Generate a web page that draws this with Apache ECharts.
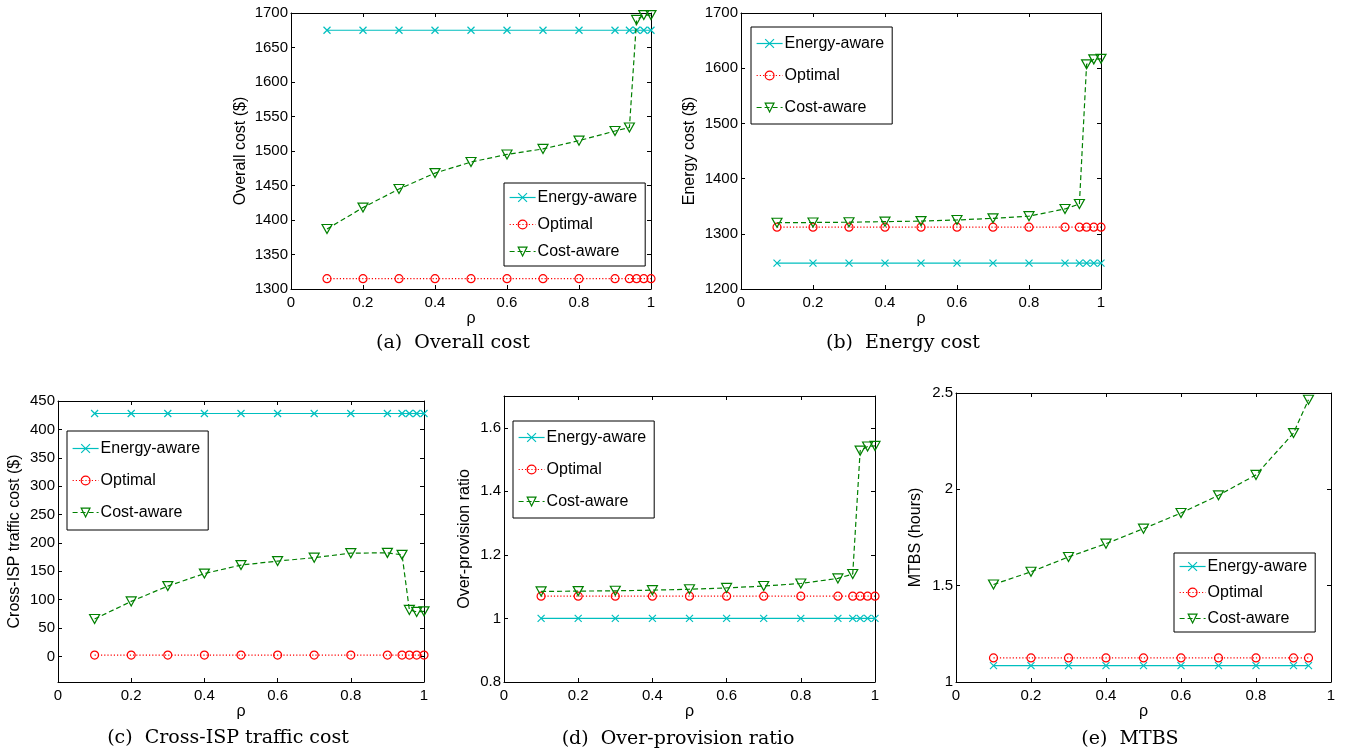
<!DOCTYPE html>
<html><head><meta charset="utf-8">
<script src="https://cdn.jsdelivr.net/npm/echarts@6/dist/echarts.min.js"></script>
<style>html,body{margin:0;padding:0;background:#fff}#c{width:1348px;height:756px}</style>
</head><body><div id="c"></div>
<script>
// ---- data ----
const rho = [0.1, 0.2, 0.3, 0.4, 0.5, 0.6, 0.7, 0.8, 0.9, 0.94, 0.96, 0.98, 1.0];
const rhoMtbs = [0.1, 0.2, 0.3, 0.4, 0.5, 0.6, 0.7, 0.8, 0.9, 0.94];
const seriesNames = ['Energy-aware', 'Optimal', 'Cost-aware'];

const overallEnergyAware = [1675, 1675, 1675, 1675, 1675, 1675, 1675, 1675, 1675, 1675, 1675, 1675, 1675];
const overallOptimal = [1315, 1315, 1315, 1315, 1315, 1315, 1315, 1315, 1315, 1315, 1315, 1315, 1315];
const overallCostAware = [1387, 1418, 1445, 1468, 1484, 1495, 1503, 1515, 1529, 1534, 1690, 1697, 1697];

const energyEnergyAware = [1247, 1247, 1247, 1247, 1247, 1247, 1247, 1247, 1247, 1247, 1247, 1247, 1247];
const energyOptimal = [1312, 1312, 1312, 1312, 1312, 1312, 1312, 1312, 1312, 1312, 1312, 1312, 1312];
const energyCostAware = [1320, 1320.5, 1321, 1322, 1323, 1325, 1328, 1332, 1345, 1354, 1607, 1616, 1617];

const ispEnergyAware = [428, 428, 428, 428, 428, 428, 428, 428, 428, 428, 428, 428, 428];
const ispOptimal = [2.5, 2.5, 2.5, 2.5, 2.5, 2.5, 2.5, 2.5, 2.5, 2.5, 2.5, 2.5, 2.5];
const ispCostAware = [66, 97, 124, 146, 161, 168, 174, 182, 182.5, 179, 82, 78.5, 79.5];

const opEnergyAware = [1.0, 1.0, 1.0, 1.0, 1.0, 1.0, 1.0, 1.0, 1.0, 1.0, 1.0, 1.0, 1.0];
const opOptimal = [1.07, 1.07, 1.07, 1.07, 1.07, 1.07, 1.07, 1.07, 1.07, 1.07, 1.07, 1.07, 1.07];
const opCostAware = [1.085, 1.086, 1.087, 1.089, 1.092, 1.096, 1.102, 1.11, 1.126, 1.14, 1.528, 1.541, 1.543];

const mtbsEnergyAware = [1.085, 1.085, 1.085, 1.085, 1.085, 1.085, 1.085, 1.085, 1.085, 1.085];
const mtbsOptimal = [1.125, 1.125, 1.125, 1.125, 1.125, 1.125, 1.125, 1.125, 1.125, 1.125];
const mtbsCostAware = [1.506, 1.572, 1.649, 1.718, 1.796, 1.877, 1.969, 2.075, 2.292, 2.465];

const xTicks = [0, 0.2, 0.4, 0.6, 0.8, 1];
const yTicksA = [1300, 1350, 1400, 1450, 1500, 1550, 1600, 1650, 1700];
const yTicksB = [1200, 1300, 1400, 1500, 1600, 1700];
const yTicksC = [0, 50, 100, 150, 200, 250, 300, 350, 400, 450];
const yTicksD = [0.8, 1, 1.2, 1.4, 1.6];
const yTicksE = [1, 1.5, 2, 2.5];

// ---- styling ----
const SANS = 'Liberation Sans, Arial, sans-serif';
const SERIF = '"DejaVu Serif", "Liberation Serif", serif';
const CYAN = '#00BFBF', RED = '#FF0000', GREEN = '#008000';
const styles = [
  { color: CYAN, symbol: 'path://M0,0L10,10M10,0L0,10', size: 7, line: 'solid' },
  { color: RED, symbol: 'circle', size: 8, line: [1.2, 2] },
  { color: GREEN, symbol: 'path://M0,0L10,0L5,9Z', size: [10, 9], line: [5, 3] }
];

const panels = [
  { grid: { left: 291, top: 13, width: 360, height: 276 }, x: rho,
    y: [overallEnergyAware, overallOptimal, overallCostAware],
    yMin: 1300, yMax: 1700, yTicks: yTicksA, yName: 'Overall cost ($)', yGap: 42,
    legend: { left: 504, top: 183, gap: 10, pad: 6 },
    caption: { text: '(a)  Overall cost', x: 453, y: 343 } },
  { grid: { left: 741, top: 13, width: 360, height: 276 }, x: rho,
    y: [energyEnergyAware, energyOptimal, energyCostAware],
    yMin: 1200, yMax: 1700, yTicks: yTicksB, yName: 'Energy cost ($)', yGap: 43,
    legend: { left: 751, top: 27, gap: 15, pad: 8 },
    caption: { text: '(b)  Energy cost', x: 903, y: 343 } },
  { grid: { left: 58, top: 401, width: 366, height: 281 }, x: rho,
    y: [ispEnergyAware, ispOptimal, ispCostAware],
    yMin: -45, yMax: 450, yTicks: yTicksC, yName: 'Cross-ISP traffic cost ($)', yGap: 35,
    legend: { left: 67, top: 431, gap: 15, pad: 9 },
    caption: { text: '(c)  Cross-ISP traffic cost', x: 228, y: 738 } },
  { grid: { left: 504, top: 396, width: 371, height: 286 }, x: rho,
    y: [opEnergyAware, opOptimal, opCostAware],
    yMin: 0.8, yMax: 1.7, yTicks: yTicksD, yName: 'Over-provision ratio', yGap: 31,
    legend: { left: 513, top: 421, gap: 15, pad: 8 },
    caption: { text: '(d)  Over-provision ratio', x: 678, y: 739 } },
  { grid: { left: 956, top: 393, width: 375, height: 289 }, x: rhoMtbs,
    y: [mtbsEnergyAware, mtbsOptimal, mtbsCostAware],
    yMin: 1, yMax: 2.5, yTicks: yTicksE, yName: 'MTBS (hours)', yGap: 32,
    legend: { left: 1174, top: 553, gap: 9, pad: 5 },
    caption: { text: '(e)  MTBS', x: 1130, y: 739 } }
];

const axisLineStyle = { color: '#000', width: 1 };
const labelStyle = { color: '#000', fontFamily: SANS, fontSize: 15, formatter: v => String(v) };

const option = {
  animation: false,
  backgroundColor: '#fff',
  grid: [], xAxis: [], yAxis: [], series: [], legend: [], graphic: []
};

panels.forEach((p, k) => {
  option.grid.push(Object.assign({ containLabel: false }, p.grid));
  option.xAxis.push({
    type: 'value', gridIndex: k, min: 0, max: 1, position: 'bottom',
    axisLine: { show: true, onZero: false, lineStyle: axisLineStyle },
    axisTick: { show: true, inside: true, length: 4, lineStyle: axisLineStyle, customValues: xTicks },
    axisLabel: Object.assign({ margin: 6, customValues: xTicks }, labelStyle),
    splitLine: { show: false },
    name: 'ρ', nameLocation: 'middle', nameGap: 21,
    nameTextStyle: { color: '#000', fontFamily: SANS, fontSize: 16 }
  });
  option.xAxis.push({
    type: 'value', gridIndex: k, min: 0, max: 1, position: 'top',
    axisLine: { show: true, onZero: false, lineStyle: axisLineStyle },
    axisTick: { show: true, inside: true, length: 4, lineStyle: axisLineStyle, customValues: xTicks },
    axisLabel: { show: false }, splitLine: { show: false }
  });
  option.yAxis.push({
    type: 'value', gridIndex: k, min: p.yMin, max: p.yMax, position: 'left',
    axisLine: { show: true, onZero: false, lineStyle: axisLineStyle },
    axisTick: { show: true, inside: true, length: 4, lineStyle: axisLineStyle, customValues: p.yTicks },
    axisLabel: Object.assign({ margin: 3, customValues: p.yTicks }, labelStyle),
    splitLine: { show: false },
    name: p.yName, nameLocation: 'middle', nameGap: p.yGap, nameRotate: 90,
    nameTextStyle: { color: '#000', fontFamily: SANS, fontSize: 16 }
  });
  option.yAxis.push({
    type: 'value', gridIndex: k, min: p.yMin, max: p.yMax, position: 'right',
    axisLine: { show: true, onZero: false, lineStyle: axisLineStyle },
    axisTick: { show: true, inside: true, length: 4, lineStyle: axisLineStyle, customValues: p.yTicks },
    axisLabel: { show: false }, splitLine: { show: false }
  });

  seriesNames.forEach((name, s) => {
    const st = styles[s];
    option.series.push({
      type: 'line', name: name,
      xAxisIndex: 2 * k, yAxisIndex: 2 * k,
      data: p.x.map((xv, i) => [xv, p.y[s][i]]),
      symbol: st.symbol, symbolSize: st.size, showSymbol: true, showAllSymbol: true,
      lineStyle: { color: st.color, width: 1.2, type: st.line },
      itemStyle: { color: 'rgba(255,255,255,0)', borderColor: st.color, borderWidth: 1.2 },
      emphasis: { disabled: true },
      z: 2 + s
    });
  });

  option.legend.push({
    orient: 'vertical', left: p.legend.left, top: p.legend.top,
    data: seriesNames,
    itemWidth: 26, itemHeight: 11, itemGap: p.legend.gap,
    padding: [p.legend.pad, 8, p.legend.pad, 5],
    borderColor: '#000', borderWidth: 1, borderRadius: 0,
    backgroundColor: '#fff',
    selectedMode: false,
    textStyle: { color: '#000', fontFamily: SANS, fontSize: 16, lineHeight: 17, padding: [0, 0, 0, -3] },
    lineStyle: { width: 1.2 },
    itemStyle: { borderWidth: 1.2 }
  });

  option.graphic.push({
    type: 'text', x: p.caption.x, y: p.caption.y,
    style: {
      text: p.caption.text, fill: '#000',
      font: '19px ' + SERIF,
      align: 'center', verticalAlign: 'middle',
      textAlign: 'center', textVerticalAlign: 'middle'
    }
  });
});

const chart = echarts.init(document.getElementById('c'), null, { renderer: 'canvas' });
chart.setOption(option);
</script>
</body></html>
